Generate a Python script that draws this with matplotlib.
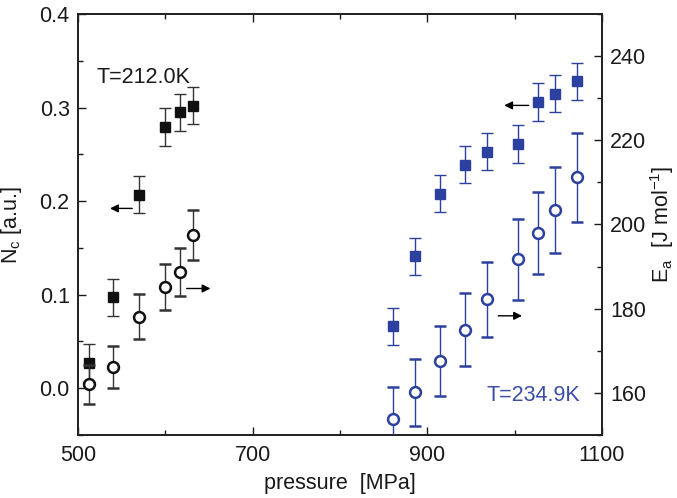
import matplotlib
matplotlib.use("Agg")
import matplotlib.pyplot as plt
from matplotlib.ticker import MultipleLocator, FixedLocator, FormatStrFormatter

plt.rcParams['font.family'] = ['Liberation Sans', 'DejaVu Sans']

# T = 212.0 K data
p_212 = [513, 540, 570, 600, 617, 632]
nc_212 = [0.027, 0.097, 0.207, 0.279, 0.295, 0.302]
nc_212_err = [0.02, 0.02, 0.02, 0.02, 0.02, 0.02]
ea_212 = [162.0, 166.1, 178.1, 185.2, 188.7, 197.5]
ea_212_err = [4.7, 5.0, 5.3, 5.5, 5.6, 5.9]

# T = 234.9 K data
p_235 = [861, 886, 915, 943, 969, 1004.5, 1027, 1046, 1072]
nc_235 = [0.066, 0.141, 0.208, 0.239, 0.253, 0.261, 0.306, 0.315, 0.328]
nc_235_err = [0.02, 0.02, 0.02, 0.02, 0.02, 0.02, 0.02, 0.02, 0.02]
ea_235 = [153.7, 160.1, 167.6, 175.0, 182.2, 191.7, 198.0, 203.4, 211.2]
ea_235_err = [7.7, 8.0, 8.3, 8.7, 9.0, 9.6, 9.8, 10.2, 10.5]

x_major = [500, 700, 900, 1100]
x_minor = [600, 800, 1000]

blue = '#2c40a0'
black = '#111111'
textc = '#1a1a1a'

fig = plt.figure(figsize=(6.77, 4.98), dpi=100)
ax = fig.add_axes([0.1152, 0.1265, 0.889 - 0.1152, 0.9719 - 0.1265])
ax2 = ax.twinx()

fs = 15.5
ms_sq = 7.3
ms_c = 7.8

# Nc (left axis) - filled squares
ax.errorbar(p_212, nc_212, yerr=nc_212_err, fmt='s', color=black, ms=ms_sq,
            ecolor='#333333', elinewidth=1, capsize=4, capthick=1, zorder=3)
ax.errorbar(p_235, nc_235, yerr=nc_235_err, fmt='s', color=blue, ms=ms_sq,
            ecolor=blue, elinewidth=1, capsize=4, capthick=1, zorder=3)

# Ea (right axis) - open circles
ax2.errorbar(p_212, ea_212, yerr=ea_212_err, fmt='o', mfc='white', mec=black, mew=1.8,
             ms=ms_c, ecolor='#333333', elinewidth=1, capsize=4, capthick=1, zorder=3)
ax2.errorbar(p_235, ea_235, yerr=ea_235_err, fmt='o', mfc='white', mec=blue, mew=1.8,
             ms=ms_c, ecolor=blue, elinewidth=1, capsize=4, capthick=1, zorder=3)

ax.set_xlim(500, 1100)
ax.set_ylim(-0.05, 0.4)
ax2.set_ylim(150, 250)

ax.xaxis.set_major_locator(FixedLocator(x_major))
ax.xaxis.set_minor_locator(FixedLocator(x_minor))
ax.yaxis.set_major_locator(MultipleLocator(0.1))
ax.yaxis.set_minor_locator(MultipleLocator(0.05))
ax2.yaxis.set_major_locator(MultipleLocator(20))
ax2.yaxis.set_minor_locator(MultipleLocator(10))

ax.tick_params(axis='x', which='both', direction='in', top=True, bottom=True, labelsize=fs, pad=7)
ax.tick_params(axis='y', which='both', direction='in', left=True, right=False, labelsize=fs, pad=6)
ax2.tick_params(axis='y', which='both', direction='in', right=True, labelsize=fs, pad=6)
for a in (ax, ax2):
    a.tick_params(which='major', length=6, width=1, colors=textc)
    a.tick_params(which='minor', length=3.5, width=1, colors=textc)
    for s in a.spines.values():
        s.set_linewidth(1.3)
        s.set_color('#222222')

ax.yaxis.set_major_formatter(FormatStrFormatter('%.1f'))

ax.set_xlabel('pressure  [MPa]', fontsize=fs, labelpad=5, color=textc)
ax.set_ylabel(r'N$_\mathregular{c}$ [a.u.]', fontsize=fs, color=textc)
ax.yaxis.set_label_coords(-0.104, 0.5)
ax2.set_ylabel(r'E$_\mathregular{a}$  [J mol$^\mathregular{-1}$]', fontsize=fs, color=textc)
ax2.yaxis.set_label_coords(1.088, 0.5)

ax.text(0.035, 0.85, 'T=212.0K', transform=ax.transAxes, fontsize=fs, color=textc, va='center')
ax.text(0.78, 0.095, 'T=234.9K', transform=ax.transAxes, fontsize=fs, color='#3a4ea8', va='center')

arrow = dict(arrowstyle='-|>', color='black', lw=1, mutation_scale=12)
ax.annotate('', xy=(533.5, 0.1922), xytext=(565.3, 0.1922), arrowprops=arrow)
ax.annotate('', xy=(654.9, 0.1066), xytext=(621.3, 0.1066), arrowprops=arrow)
ax.annotate('', xy=(985.0, 0.3023), xytext=(1019.4, 0.3023), arrowprops=arrow)
ax.annotate('', xy=(1011.7, 0.0774), xytext=(978.2, 0.0774), arrowprops=arrow)

fig.savefig('out.png', dpi=100)
